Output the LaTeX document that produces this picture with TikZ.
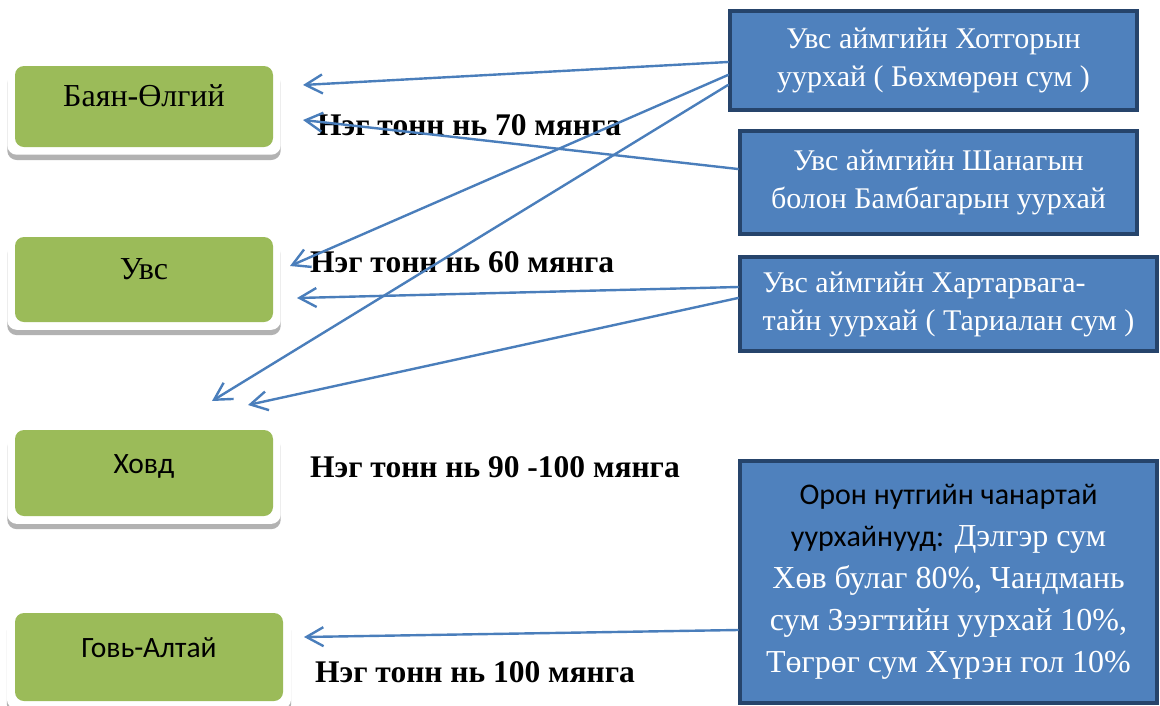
\documentclass[tikz,border=0pt]{standalone}
\usepackage{fontspec}
\setmainfont{Liberation Serif}
\newfontfamily\calibri{Carlito}
\usepackage{xcolor}
\usetikzlibrary{arrows.meta, positioning, calc, shadows}
\definecolor{regiongreen}{HTML}{9BBB59}
\definecolor{mineblue}{HTML}{4F81BD}
\definecolor{minenavy}{HTML}{26446B}
\definecolor{routeblue}{HTML}{4A7EBB}
\tikzset{
    region/.style={
        rectangle,
        rounded corners=9pt,
        fill=regiongreen,
        minimum width=258pt,
        minimum height=81pt,
        outer sep=0pt,
        text height=20pt,
        text depth=20pt,
        font=\fontsize{32}{36}\selectfont,
        general shadow={fill=gray!60, shadow scale=1.06, shadow yshift=-10pt},
        general shadow={fill=white, shadow scale=1.06, shadow yshift=-5pt},
    },
    mine/.style={
        rectangle,
        draw=minenavy,
        line width=4pt,
        fill=mineblue,
        text=white,
        align=center,
        font=\fontsize{30}{38}\selectfont,
    },
    price/.style={
        anchor=base west,
        inner sep=0pt,
        font=\bfseries\fontsize{31.5}{36}\selectfont,
    },
    route/.style={
        ->,
        color=routeblue,
        line width=2.4pt,
        line cap=round,
    },
}
\begin{document}
\begin{tikzpicture}[x=1pt, y=-1pt, >={Straight Barb[length=17pt,width=19pt]}]
      \useasboundingbox (0,0) rectangle (1160,705);

      % aimags on the left
      \node [region] (Bayan) at (144,106.5) {Баян-Өлгий};
      \node [region, minimum height=85pt] (Uvs) [below=90pt of Bayan] {Увс};
      \node [region, minimum height=86pt, font=\calibri\fontsize{29.5}{32}\selectfont] (Hovd) [below=108pt of Uvs] {Ховд};
      \node [region, minimum width=268pt, minimum height=88pt, font=\calibri\fontsize{29.5}{32}\selectfont] (GoviAltai) [below=97pt of Hovd.south west, anchor=north west] {Говь-Алтай};

      % prices
      \node [price] (Price-70) at (317,135) {Нэг тонн нь 70 мянга};
      \node [price] (Price-60) at (310,272) {Нэг тонн нь 60 мянга};
      \node [price] (Price-90) at (310,477) {Нэг тонн нь 90 -100 мянга};
      \node [price] (Price-100) at (315,682) {Нэг тонн нь 100 мянга};

      % mines on the right
      \node [mine, minimum width=407pt, minimum height=99pt] (Hotgor) at (933.5,60.5) {Увс аймгийн Хотгорын\\уурхай ( Бөхмөрөн сум )};
      \node [mine, minimum width=397pt, minimum height=103pt] (Shanag) [below=17pt of Hotgor.south east, anchor=north east] {Увс аймгийн Шанагын\\болон Бамбагарын уурхай};
      \node [mine, minimum width=417pt, minimum height=94pt, align=left] (Hartar) [below=19pt of Shanag.south west, anchor=north west] {Увс аймгийн Хартарвага-\\тайн уурхай ( Тариалан сум )};
      \node [mine, minimum width=417pt, minimum height=242pt, font=\fontsize{32}{42}\selectfont] (Local) [below=106pt of Hartar.south west, anchor=north west]
        {{\color{black}\calibri\fontsize{30}{42}\selectfont Орон нутгийн чанартай}\\
         {\color{black}\calibri\fontsize{30}{42}\selectfont уурхайнууд:} Дэлгэр сум\\
         Хөв булаг 80\%, Чандмань\\
         сум Зээгтийн уурхай 10\%,\\
         Төгрөг сум Хүрэн гол 10\%};

      \coordinate (tip-Bayan-a) at (303,85);
      \coordinate (tip-Bayan-b) at (303,120);
      \coordinate (tip-Uvs-a) at (290,266);
      \coordinate (tip-Uvs-b) at (297,298);
      \coordinate (tip-Hovd-a) at (212,401);
      \coordinate (tip-Hovd-b) at (248,405);
      \coordinate (tip-GoviAltai) at (304,637);

      \path[route] ($(Hotgor.west)+(0,1.5)$) edge (tip-Bayan-a);
      \path[route] ($(Shanag.west)+(0,-13.5)$) edge (tip-Bayan-b);
      \path[route] ($(Hotgor.west)+(0,14.5)$) edge (tip-Uvs-a);
      \path[route] ($(Hotgor.west)+(0,24.5)$) edge (tip-Hovd-a);
      \path[route] ($(Hartar.west)+(0,-17)$) edge (tip-Uvs-b);
      \path[route] ($(Hartar.west)+(0,-6)$) edge (tip-Hovd-b);
      \path[route] ($(Local.west)+(0,48)$) edge (tip-GoviAltai);
\end{tikzpicture}
\end{document}
